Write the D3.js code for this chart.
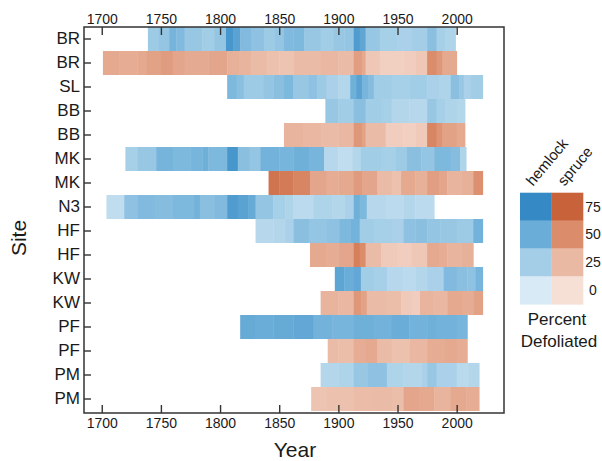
<!DOCTYPE html>
<html>
<head>
<meta charset="utf-8">
<script src="https://cdn.jsdelivr.net/npm/d3@7"></script>
<style>
  body { margin: 0; background: #fff; }
  text { font-family: "Liberation Sans", Arial, sans-serif; fill: #1a1a1a; }
</style>
</head>
<body>
<div id="chart"></div>
<script>
// rows top to bottom
const sites = ["BR","BR","SL","BB","BB","MK","MK","N3","HF","HF","KW","KW","PF","PF","PM","PM"];
const species = ["hemlock","spruce","hemlock","hemlock","spruce","hemlock","spruce","hemlock",
                 "hemlock","spruce","hemlock","spruce","hemlock","spruce","hemlock","spruce"];
const endYears = [1999,2000,2022,2007,2007,2008,2022,1981,2022,2014,2022,2022,2009,2009,2019,2019];

// [start year, percent defoliated] runs for each row
const segments = [
  [[1739,28],[1748,32],[1757,45],[1763,40],[1770,30],[1785,26],[1795,32],[1805,66],[1811,58],[1817,40],[1826,34],[1837,28],[1846,32],[1854,40],[1862,42],[1871,30],[1885,26],[1896,30],[1905,32],[1913,62],[1918,55],[1923,30],[1935,24],[1950,22],[1962,25],[1975,36],[1983,24],[1990,20]],
  [[1701,34],[1715,32],[1730,34],[1738,38],[1750,41],[1760,36],[1770,33],[1790,36],[1806,30],[1816,28],[1826,24],[1840,20],[1850,18],[1862,24],[1885,26],[1900,24],[1913,40],[1920,34],[1923,16],[1935,10],[1955,12],[1965,16],[1975,50],[1983,44],[1988,34]],
  [[1806,42],[1814,36],[1820,28],[1837,32],[1845,36],[1854,42],[1862,30],[1875,34],[1882,28],[1890,22],[1900,18],[1910,48],[1915,58],[1920,44],[1925,38],[1930,26],[1945,24],[1960,26],[1975,22],[1985,20],[1995,36],[2002,30],[2006,22],[2012,26]],
  [[1889,30],[1900,26],[1913,36],[1923,26],[1936,24],[1945,18],[1960,16],[1975,30],[1983,24],[1990,20],[2000,18]],
  [[1854,28],[1870,26],[1885,24],[1900,26],[1913,44],[1920,38],[1923,24],[1940,12],[1955,10],[1965,14],[1975,54],[1983,46],[1988,38],[2000,34]],
  [[1720,24],[1730,30],[1746,45],[1760,42],[1775,44],[1785,48],[1790,42],[1806,66],[1815,36],[1825,32],[1834,46],[1850,44],[1862,48],[1875,44],[1888,16],[1900,12],[1912,18],[1919,26],[1936,24],[1948,28],[1958,36],[1970,32],[1981,42],[1995,38],[2003,20]],
  [[1841,64],[1850,60],[1862,54],[1876,36],[1890,32],[1900,34],[1913,42],[1920,36],[1933,24],[1945,20],[1953,34],[1965,30],[1975,40],[1985,36],[1992,28],[2005,30],[2014,48]],
  [[1704,12],[1719,34],[1730,40],[1745,38],[1760,42],[1778,46],[1783,36],[1795,40],[1806,62],[1815,58],[1824,52],[1830,32],[1845,24],[1855,20],[1862,14],[1879,20],[1895,18],[1905,22],[1913,48],[1918,42],[1924,16],[1940,14],[1955,18],[1965,14]],
  [[1830,16],[1845,18],[1855,22],[1862,36],[1875,32],[1890,34],[1901,42],[1910,46],[1918,26],[1930,24],[1945,22],[1955,34],[1965,36],[1975,32],[1986,30],[2000,28],[2014,46]],
  [[1876,34],[1890,32],[1900,36],[1913,58],[1918,50],[1923,24],[1936,14],[1950,12],[1962,16],[1975,34],[1985,32],[1992,28],[2005,30]],
  [[1897,56],[1905,50],[1913,54],[1919,26],[1930,24],[1941,16],[1955,14],[1965,18],[1975,22],[1989,40],[2000,36],[2009,34],[2016,44]],
  [[1885,28],[1900,26],[1913,44],[1919,38],[1924,24],[1940,22],[1953,14],[1962,12],[1969,28],[1980,26],[1992,34],[2005,32],[2014,38]],
  [[1817,52],[1830,50],[1845,52],[1862,54],[1879,46],[1895,44],[1913,48],[1930,46],[1945,50],[1960,46],[1975,48],[1983,46],[2000,44]],
  [[1891,24],[1900,22],[1913,32],[1923,34],[1933,24],[1945,20],[1960,26],[1975,32],[1990,34],[2000,32]],
  [[1885,18],[1900,20],[1913,30],[1925,34],[1941,20],[1955,18],[1970,22],[1975,30],[1983,22],[2000,15],[2010,18]],
  [[1877,18],[1890,20],[1913,23],[1930,24],[1945,22],[1955,36],[1968,34],[1981,28],[1995,34],[2008,32]]
];

const yearTicks = [1700, 1750, 1800, 1850, 1900, 1950, 2000];
const legendLevels = [75, 50, 25, 0];

const width = 602, height = 461;
const margin = {top: 27, right: 98, bottom: 48, left: 84};

const svg = d3.select("#chart").append("svg")
  .attr("width", width)
  .attr("height", height);

const x = d3.scaleLinear()
  .domain([1685, 2040])
  .range([margin.left, width - margin.right]);

const y = d3.scaleBand()
  .domain(d3.range(sites.length))
  .range([margin.top, 411]);

const colour = {
  hemlock: d3.scaleLinear().domain([0, 25, 50, 75])
    .range(["#d8eaf5", "#a4cee7", "#6aadd8", "#358ac5"]).clamp(true),
  spruce: d3.scaleLinear().domain([0, 25, 50, 75])
    .range(["#f6e0d6", "#eab9a4", "#db8c6b", "#c8623a"]).clamp(true)
};

// strips
const rows = segments.map((segs, i) => segs.map((s, j) => ({
  row: i,
  start: s[0],
  end: j < segs.length - 1 ? segs[j + 1][0] : endYears[i],
  value: s[1]
})));

svg.append("g")
  .selectAll("g")
  .data(rows)
  .join("g")
  .selectAll("rect")
  .data(d => d)
  .join("rect")
    .attr("x", d => x(d.start))
    .attr("width", d => x(d.end) - x(d.start) + 0.4)
    .attr("y", d => y(d.row))
    .attr("height", y.bandwidth())
    .attr("fill", d => colour[species[d.row]](d.value));

// axes
const plotTop = margin.top, plotBottom = height - margin.bottom;

const topAxis = svg.append("g")
  .attr("transform", `translate(0,${plotTop})`)
  .call(d3.axisTop(x).tickValues(yearTicks).tickFormat(d3.format("d"))
    .tickSizeInner(-8).tickSizeOuter(0).tickPadding(3));

const bottomAxis = svg.append("g")
  .attr("transform", `translate(0,${plotBottom})`)
  .call(d3.axisBottom(x).tickValues(yearTicks).tickFormat(d3.format("d"))
    .tickSizeInner(-8).tickSizeOuter(0).tickPadding(5));

const leftAxis = svg.append("g")
  .attr("transform", `translate(${margin.left},0)`)
  .call(d3.axisLeft(y).tickFormat(i => sites[i])
    .tickSizeInner(-7).tickSizeOuter(0).tickPadding(4));

[topAxis, bottomAxis, leftAxis].forEach(g => {
  g.select(".domain").remove();
  g.selectAll(".tick line").attr("stroke", "#333").attr("stroke-width", 1.4);
  g.selectAll("text").style("font-size", "14px").attr("fill", "#1a1a1a");
});
leftAxis.selectAll("text").style("font-size", "17px");

svg.append("rect")
  .attr("x", margin.left)
  .attr("y", plotTop)
  .attr("width", width - margin.right - margin.left)
  .attr("height", plotBottom - plotTop)
  .attr("fill", "none")
  .attr("stroke", "#333")
  .attr("stroke-width", 1.5);

// axis titles
svg.append("text")
  .attr("x", 295).attr("y", 457)
  .attr("text-anchor", "middle")
  .style("font-size", "21px")
  .text("Year");

svg.append("text")
  .attr("transform", "translate(26,238) rotate(-90)")
  .attr("text-anchor", "middle")
  .style("font-size", "21px")
  .text("Site");

// legend
const lg = svg.append("g");
const swW = 31.5, swH = 27.9, lgX = 520, lgY = 192.7;

["hemlock", "spruce"].forEach((sp, c) => {
  lg.selectAll(null)
    .data(legendLevels)
    .join("rect")
      .attr("x", lgX + c * swW)
      .attr("y", (d, i) => lgY + i * swH)
      .attr("width", swW + 0.3)
      .attr("height", swH + 0.3)
      .attr("fill", d => colour[sp](d));

  lg.append("text")
    .attr("transform", `translate(${lgX + 13 + c * swW},${lgY - 6}) rotate(-50)`)
    .style("font-size", "15px")
    .text(sp);
});

lg.selectAll(null)
  .data(legendLevels)
  .join("text")
    .attr("x", 593)
    .attr("y", (d, i) => lgY + i * swH + swH / 2)
    .attr("dy", "0.35em")
    .attr("text-anchor", "middle")
    .style("font-size", "14px")
    .text(d => d);

lg.append("text")
  .attr("x", 557).attr("y", 325)
  .attr("text-anchor", "middle")
  .style("font-size", "17px")
  .text("Percent");

lg.append("text")
  .attr("x", 559).attr("y", 347)
  .attr("text-anchor", "middle")
  .style("font-size", "17px")
  .text("Defoliated");
</script>
</body>
</html>
